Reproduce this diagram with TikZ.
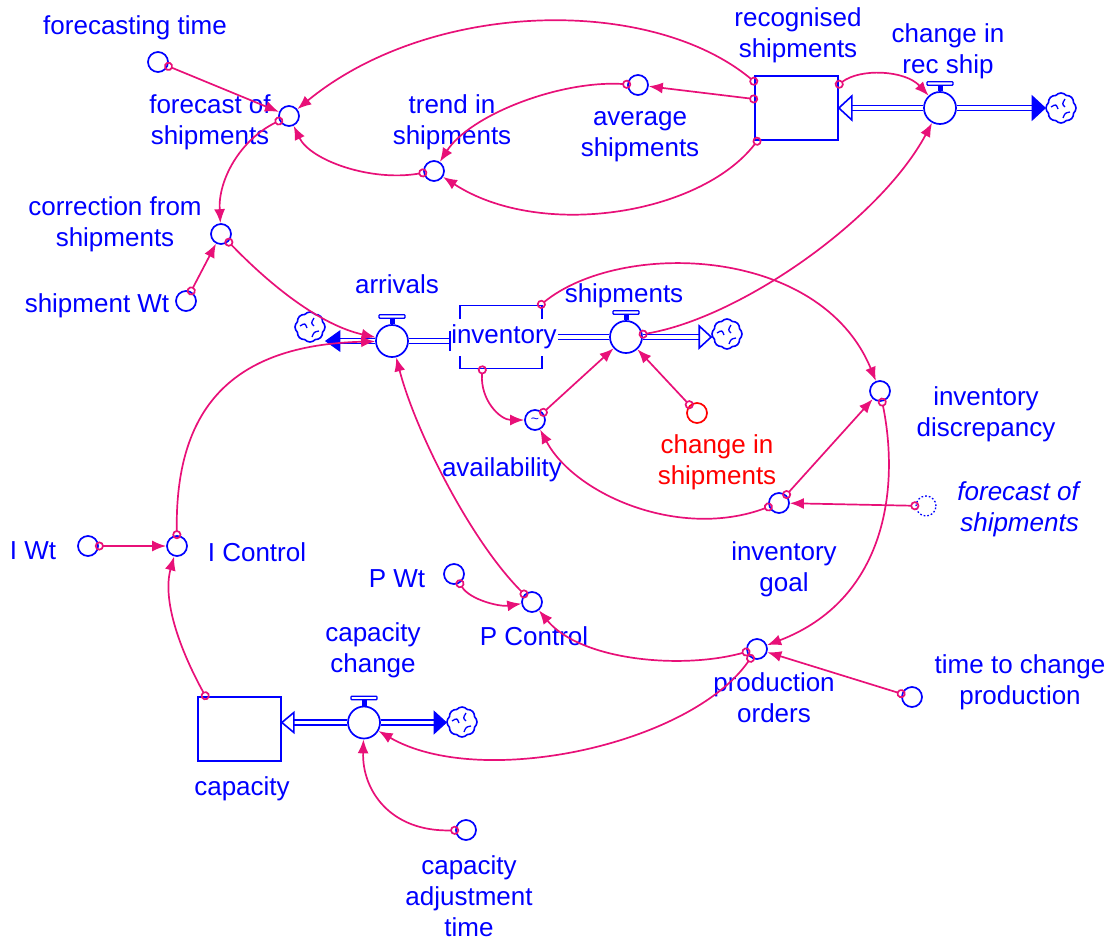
\documentclass[tikz,border=0pt]{standalone}
\usepackage{fontspec}
\setmainfont{Liberation Sans}
\usetikzlibrary{arrows.meta,shapes.symbols}
\definecolor{vblue}{RGB}{0,0,255}
\definecolor{vpink}{RGB}{232,16,120}
\definecolor{vred}{RGB}{255,0,0}
\tikzset{
 aux/.style={circle,draw=vblue,line width=1.7pt,minimum size=20pt,inner sep=0pt},
 lbl/.style={text=vblue,align=center,font=\fontsize{26}{31}\selectfont,inner sep=0pt},
 stock/.style={draw=vblue,line width=1.7pt,minimum width=83pt,minimum height=64pt,inner sep=0pt},
 valvec/.style={circle,draw=vblue,line width=1.7pt,minimum size=32pt,inner sep=0pt,fill=white},
 cloudsym/.style={cloud,cloud puffs=8,cloud puff arc=100,aspect=1,minimum width=30pt,minimum height=30pt,inner sep=0pt,draw=vblue,line width=1.6pt},
 pipe/.style={draw=vblue,line width=1.6pt,double=white,double distance=3.4pt},
 tipfill/.style={fill=vblue,draw=vblue,line width=1pt,line join=miter},
 tiphollow/.style={fill=white,draw=vblue,line width=1.6pt,line join=miter},
 conn/.style={draw=vpink,line width=1.7pt,shorten <=-4pt,
   arrows={Circle[open,length=9pt,width=9pt]-Latex[length=14pt,width=11pt]}},
}
\newcommand\mkvalve[2]{%
 \node[valvec] (#1) at (#2) {};
 \fill[vblue] ([xshift=-2.5pt]#1.north) rectangle ([xshift=2.5pt,yshift=7pt]#1.north);
 \draw[vblue,line width=1.3pt,fill=white,rounded corners=0.8pt] ([xshift=-13pt,yshift=6pt]#1.north) rectangle ([xshift=13pt,yshift=9.5pt]#1.north);
}
\newcommand\mkcloud[2]{%
 \node[cloudsym] (#1) at (#2) {};
 \draw[vblue,line width=1.3pt] ([shift={(-10pt,1pt)}]#1.center) .. controls ([shift={(-5pt,4pt)}]#1.center) .. ([shift={(-3pt,-1pt)}]#1.center);
 \draw[vblue,line width=1.3pt] ([shift={(4pt,9pt)}]#1.center) .. controls ([shift={(1pt,4pt)}]#1.center) .. ([shift={(4pt,1pt)}]#1.center);
 \draw[vblue,line width=1.3pt] ([shift={(2pt,-10pt)}]#1.center) .. controls ([shift={(4pt,-5pt)}]#1.center) .. ([shift={(9pt,-4pt)}]#1.center);
}
\begin{document}
\begin{tikzpicture}[x=1pt,y=-1pt]
\useasboundingbox (0,0) rectangle (1111,940);

% stocks
\node[stock] (rs) at (796.5,108) {};
\node[stock,minimum width=82pt,minimum height=63pt] (inv) at (501,337) {};
\node[lbl,fill=white,inner xsep=1pt,minimum height=37pt] (invt) at (504,337) {inventory};
\node[stock] (cap) at (239.5,729) {};

% valves
\mkvalve{crs}{940,108}
\mkvalve{arr}{392,341}
\mkvalve{shp}{626,337}
\mkvalve{cc}{364,722.5}

% clouds
\mkcloud{cl1}{1061,108}
\mkcloud{cl2}{310,327}
\mkcloud{cl3}{727,334}
\mkcloud{cl4}{462,722}

% pipes
\draw[pipe] (crs.west) -- ([xshift=13pt]rs.east);
\draw[tiphollow] (rs.east) -- ++(13,-12) -- ++(0,24) -- cycle;
\draw[pipe] (crs.east) -- ([xshift=-13pt]cl1.west);
\draw[tipfill] (cl1.west) -- ++(-13,-12) -- ++(0,24) -- cycle;

\coordinate (t2) at (cl2.east |- arr.west);
\draw[pipe] (arr.west) -- ([xshift=14pt]t2);
\draw[tipfill] (t2) -- ++(14,-10) -- ++(0,20) -- cycle;
\coordinate (b2) at (invt.west |- arr.east);
\draw[pipe] (arr.east) -- (b2);
\draw[vblue,line width=1.7pt] ([yshift=-10pt]b2) -- ([yshift=10pt]b2);
\coordinate (b3) at (invt.east |- shp.west);
\draw[pipe] (b3) -- (shp.west);
\coordinate (t3) at (cl3.west |- shp.east);
\draw[pipe] (shp.east) -- ([xshift=-12pt]t3);
\draw[tiphollow] (t3) -- ++(-12,-11) -- ++(0,22) -- cycle;

\coordinate (t4) at (cap.east |- cc.west);
\draw[pipe] (cc.west) -- ([xshift=12pt]t4);
\draw[tiphollow] (t4) -- ++(12,-10) -- ++(0,20) -- cycle;
\coordinate (t5) at (cl4.west |- cc.east);
\draw[pipe] (cc.east) -- ([xshift=-12pt]t5);
\draw[tipfill] (t5) -- ++(-12,-11) -- ++(0,22) -- cycle;

% auxiliaries
\node[aux] (ft) at (158,62) {};
\node[aux] (fos) at (289,116) {};
\node[aux] (tis) at (434,171) {};
\node[aux] (avs) at (638,85) {};
\node[aux] (cfs) at (221,234) {};
\node[aux] (swt) at (186,301) {};
\node[aux] (avl) at (535,420) {};
\node[text=vblue,font=\fontsize{14}{14}\selectfont,inner sep=0pt] (avlt) at (535,421) {\textasciitilde};
\node[aux,draw=vred] (cis) at (697,413) {};
\node[aux] (idis) at (880,391) {};
\node[aux] (ig) at (779,503) {};
\node[aux,dotted,line width=1.3pt] (fos2) at (926,506) {};
\node[aux] (iwt) at (88,546) {};
\node[aux] (ic) at (177,546) {};
\node[aux] (pwt) at (454,574) {};
\node[aux] (pc) at (532,602) {};
\node[aux] (po) at (757,649) {};
\node[aux] (tcp) at (912,697) {};
\node[aux] (cat) at (466,830) {};

% labels
\node[lbl] (l-ft) at (135,28) {forecasting time};
\node[lbl] (l-fos) at (210,122) {forecast of\\shipments};
\node[lbl] (l-tis) at (452,122) {trend in\\shipments};
\node[lbl] (l-avs) at (640,137) {average\\shipments};
\node[lbl] (l-rs) at (798,35) {recognised\\shipments};
\node[lbl] (l-crs) at (948,51) {change in\\rec ship};
\node[lbl] (l-cfs) at (115,224) {correction from\\shipments};
\node[lbl] (l-swt) at (97,306) {shipment Wt};
\node[lbl] (l-arr) at (397,284) {arrivals};
\node[lbl] (l-shp) at (624,296) {shipments};
\node[lbl] (l-avl) at (502,470) {availability};
\node[lbl,text=vred] (l-cis) at (717,462) {change in\\shipments};
\node[lbl] (l-idis) at (986,414) {inventory\\discrepancy};
\node[lbl] (l-ig) at (784,569) {inventory\\goal};
\node[lbl,align=right,anchor=east,font=\fontsize{26}{31}\selectfont\itshape] (l-fos2) at (1079,509) {forecast of\\shipments};
\node[lbl] (l-iwt) at (33,551) {I Wt};
\node[lbl] (l-ic) at (257,552) {I Control};
\node[lbl] (l-pwt) at (397,579) {P Wt};
\node[lbl] (l-pc) at (534,636) {P Control};
\node[lbl] (l-cc) at (373,650) {capacity\\change};
\node[lbl] (l-po) at (774,698) {production\\orders};
\node[lbl] (l-tcp) at (1020,682) {time to change\\production};
\node[lbl] (l-cap) at (242,789) {capacity};
\node[lbl] (l-cat) at (469,896) {capacity\\adjustment\\time};

% connectors
\draw[conn] (ft) -- (fos);
\draw[conn] (rs.148) .. controls (650,-5) and (430,0) .. (fos);
\draw[conn] (rs.168) -- (avs);
\draw[conn] (rs.220) .. controls (700,215) and (540,240) .. (tis);
\draw[conn] (avs) .. controls (560,80) and (470,115) .. (tis);
\draw[conn] (tis) .. controls (370,182) and (310,160) .. (fos);
\draw[conn] (rs.29) .. controls (860,68) and (905,70) .. (crs);
\draw[conn] (shp) .. controls (740,318) and (880,220) .. (crs);
\draw[conn] (fos) .. controls (240,140) and (218,180) .. (cfs);
\draw[conn] (swt) -- (cfs);
\draw[conn] (cfs) .. controls (270,285) and (320,325) .. (arr);
\draw[conn] (ic) .. controls (175,410) and (230,345) .. (arr);
\draw[conn] (pc) .. controls (470,540) and (415,430) .. (arr);
\draw[conn] (inv.240) .. controls (480,400) and (500,420) .. (avl);
\draw[conn] (avl) -- (shp);
\draw[conn] (cis) -- (shp);
\draw[conn] (inv.39) .. controls (620,240) and (820,245) .. (idis);
\draw[conn] (ig) -- (idis);
\draw[conn] (ig) .. controls (680,540) and (575,495) .. (avl);
\draw[conn] (fos2) -- (ig);
\draw[conn] (idis) .. controls (900,490) and (885,600) .. (po);
\draw[conn] (tcp) -- (po);
\draw[conn] (po) .. controls (680,670) and (580,660) .. (pc);
\draw[conn] (po) .. controls (690,745) and (480,790) .. (cc);
\draw[conn] (pwt) .. controls (470,600) and (500,607) .. (pc);
\draw[conn] (iwt) -- (ic);
\draw[conn] (cap.136) .. controls (180,650) and (162,600) .. (ic);
\draw[conn] (cat) .. controls (390,832) and (362,790) .. (cc);
\end{tikzpicture}
\end{document}
